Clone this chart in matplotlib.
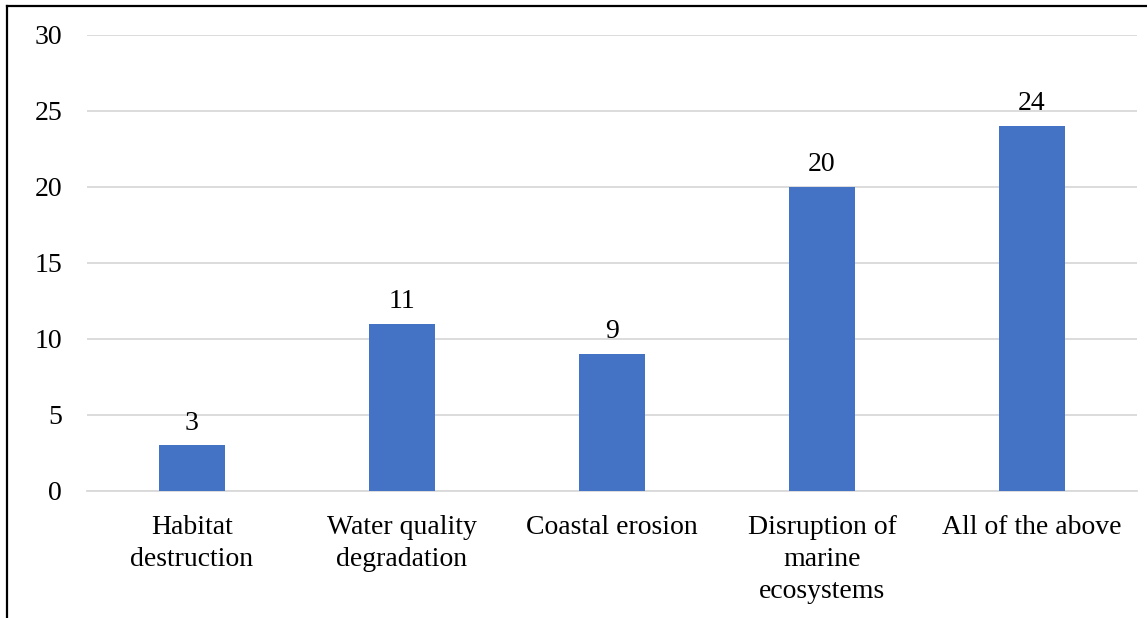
import matplotlib
matplotlib.use("Agg")
import matplotlib.pyplot as plt
from matplotlib.lines import Line2D

categories = ["Habitat\ndestruction", "Water quality\ndegradation", "Coastal erosion",
              "Disruption of\nmarine\necosystems", "All of the above"]
values = [3, 11, 9, 20, 24]
yticks = [0, 5, 10, 15, 20, 25, 30]

plt.rcParams['font.family'] = ['Liberation Serif', 'DejaVu Serif']

W, H = 1147, 618
fig = plt.figure(figsize=(W / 100, H / 100), dpi=100)
ax = fig.add_axes([87 / W, 1 - 491 / H, (1137 - 87) / W, (491 - 35) / H])

x = list(range(len(categories)))
bars = ax.bar(x, values, width=0.31, color="#4472C4", zorder=3)
for xi, v in zip(x, values):
    ax.annotate(str(v), (xi, v), xytext=(0, 7), textcoords="offset points",
                ha="center", va="bottom", fontsize=20, color="#000000")

ax.set_xlim(-0.5, len(categories) - 0.5)
ax.set_ylim(0, 30)
ax.set_yticks(yticks)
ax.set_yticklabels([str(t) for t in yticks], fontsize=20)
ax.set_xticks(x)
ax.set_xticklabels(categories, fontsize=20, linespacing=1.37, va="top")
ax.tick_params(axis="both", length=0)
ax.tick_params(axis="y", pad=18)
ax.tick_params(axis="x", pad=17)
ax.grid(axis="y", color="#D9D9D9", linewidth=1.3, zorder=0)
for s in ["top", "right", "left"]:
    ax.spines[s].set_visible(False)
ax.spines["bottom"].set_color("#D9D9D9")
ax.spines["bottom"].set_linewidth(1.3)

# outer frame (left and top only visible in the crop)
fig.add_artist(Line2D([6.5 / W, 6.5 / W], [0, 1 - 5.5 / H], transform=fig.transFigure,
                      color="black", linewidth=1.6))
fig.add_artist(Line2D([6.5 / W, 1], [1 - 5.5 / H, 1 - 5.5 / H], transform=fig.transFigure,
                      color="black", linewidth=1.6))

fig.savefig("out.png", dpi=100)
